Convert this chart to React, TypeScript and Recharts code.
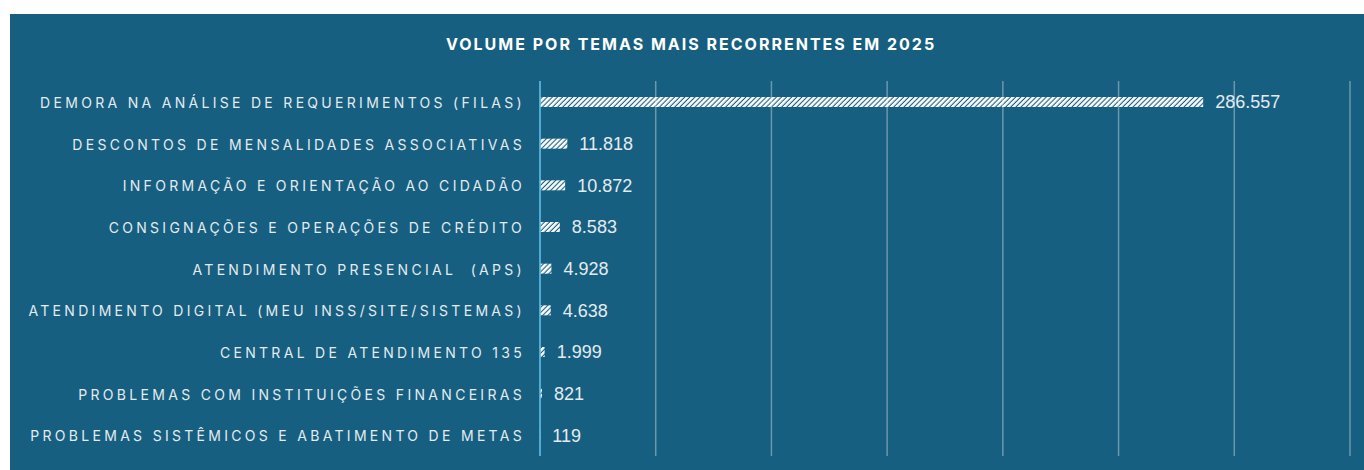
import React from "react";
import { BarChart, Bar, XAxis, YAxis, CartesianGrid, LabelList } from "recharts";

const categories = [
  "DEMORA NA ANÁLISE DE REQUERIMENTOS (FILAS)",
  "DESCONTOS DE MENSALIDADES ASSOCIATIVAS",
  "INFORMAÇÃO E ORIENTAÇÃO AO CIDADÃO",
  "CONSIGNAÇÕES E OPERAÇÕES DE CRÉDITO",
  "ATENDIMENTO PRESENCIAL  (APS)",
  "ATENDIMENTO DIGITAL (MEU INSS/SITE/SISTEMAS)",
  "CENTRAL DE ATENDIMENTO 135",
  "PROBLEMAS COM INSTITUIÇÕES FINANCEIRAS",
  "PROBLEMAS SISTÊMICOS E ABATIMENTO DE METAS",
];
const volumes = [286557, 11818, 10872, 8583, 4928, 4638, 1999, 821, 119];
const xTicks = [0, 50000, 100000, 150000, 200000, 250000, 300000, 350000];
const title = "VOLUME POR TEMAS MAIS RECORRENTES EM 2025";

const data = categories.map((name, i) => ({ name, value: volumes[i] }));

const fmt = (v: number) => String(v).replace(/\B(?=(\d{3})+(?!\d))/g, ".");

const BG = "#175f80";
const TEXT = "#e3ebf0";

const CatTick = (props: any) => {
  const { x, y, payload } = props;
  return (
    <text
      x={x}
      y={y}
      dy={6}
      textAnchor="end"
      fill={TEXT}
      fontFamily="Inter, 'Open Sans', sans-serif"
      fontSize={14}
      letterSpacing={3.3}
      style={{ whiteSpace: "pre" }}
    >
      {payload.value}
    </text>
  );
};

export default function App() {
  return (
    <div style={{ position: "absolute", left: 0, top: 0, width: 1364, height: 470, background: "#ffffff" }}>
      <div style={{ position: "absolute", left: 10, top: 14, width: 1354, height: 456, background: BG }}>
        <div
          style={{
            position: "absolute",
            left: 4,
            top: 19,
            width: 1354,
            textAlign: "center",
            color: "#ffffff",
            fontFamily: "Inter, sans-serif",
            fontWeight: 700,
            fontSize: 16,
            letterSpacing: 2,
            lineHeight: "22px",
          }}
        >
          {title}
        </div>
        <BarChart
          width={1354}
          height={456}
          data={data}
          layout="vertical"
          margin={{ top: 67, right: 14, bottom: 14, left: 0 }}
          barCategoryGap={0}
        >
          <defs>
            <pattern id="stripes" patternUnits="userSpaceOnUse" width={3.6} height={3.6} patternTransform="rotate(45)">
              <rect x={0} y={0} width={2.5} height={3.6} fill="#ffffff" />
            </pattern>
          </defs>
          <CartesianGrid horizontal={false} vertical={true} stroke="#6a97ac" strokeWidth={1.5} />
          <XAxis type="number" domain={[0, 350000]} ticks={xTicks} hide />
          <YAxis
            type="category"
            dataKey="name"
            width={530}
            tick={<CatTick />}
            tickLine={false}
            tickSize={0}
            tickMargin={15}
            axisLine={{ stroke: "#4fb6e6", strokeWidth: 1.5 }}
            interval={0}
          />
          <Bar dataKey="value" fill="url(#stripes)" barSize={10} isAnimationActive={false}>
            <LabelList
              dataKey="value"
              position="right"
              offset={12}
              formatter={(v: any) => fmt(Number(v))}
              fill={TEXT}
              fontSize={18}
              fontFamily="'Liberation Sans', Arial, sans-serif"
            />
          </Bar>
        </BarChart>
      </div>
    </div>
  );
}
